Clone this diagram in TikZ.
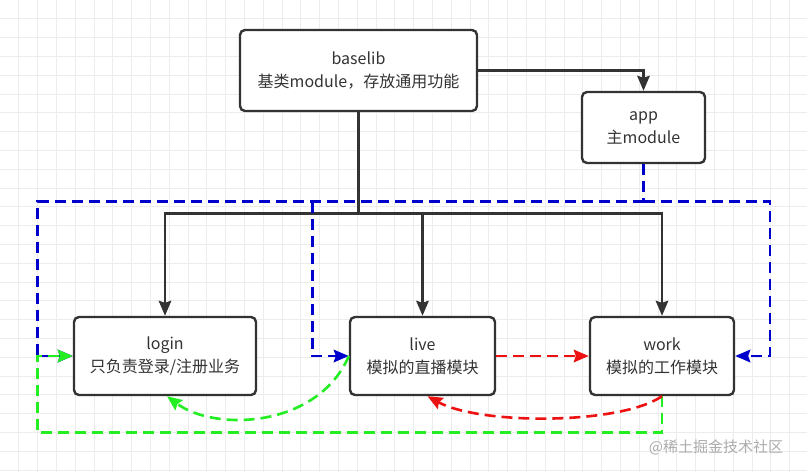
\documentclass[tikz,border=0pt]{standalone}
\usepackage{fontspec}
\setmainfont{Noto Sans CJK SC}
\usetikzlibrary{arrows.meta}
\definecolor{edgec}{HTML}{333333}
\definecolor{bluel}{HTML}{0000CC}
\definecolor{greenl}{HTML}{22EE22}
\definecolor{redl}{HTML}{EE1111}
\definecolor{gridc}{HTML}{ECECEC}
\begin{document}
\begin{tikzpicture}[x=1pt,y=-1pt,
  box/.style={draw=edgec, line width=2.4pt, rounded corners=5pt, fill=white, text=edgec, align=center, font=\fontsize{16}{23}\selectfont, inner sep=0pt},
  solidline/.style={draw=edgec, line width=2.4pt},
  conn/.style={solidline, -{Stealth[length=15pt,width=12.5pt,inset=2pt]}},
  dashedline/.style={line width=2.6pt, dash pattern=on 11pt off 6pt},
  bluedash/.style={dashedline, draw=bluel},
  greendash/.style={dashedline, draw=greenl},
  reddash/.style={dashedline, draw=redl},
  bluearr/.style={bluedash, -{Stealth[length=15pt,width=12.5pt,inset=2pt,fill=bluel]}},
  greenarr/.style={greendash, -{Stealth[length=15pt,width=12.5pt,inset=2pt,fill=greenl]}},
  redarr/.style={reddash, -{Stealth[length=15pt,width=12.5pt,inset=2pt,fill=redl]}},
]
\fill[white] (0,0) rectangle (807,472);
\useasboundingbox (0,0) rectangle (807,472);
\foreach \i in {1,...,42} {\draw[gridc, line width=0.8pt] (\i*18.8,0) -- (\i*18.8,472);}
\foreach \i in {1,...,25} {\draw[gridc, line width=0.8pt] (0,\i*18.8) -- (807,\i*18.8);}

\node[box, minimum width=237pt, minimum height=81pt] (base) at (358.5,70.5) {baselib\\基类module，存放通用功能};
\node[box, minimum width=123pt, minimum height=71pt] (app) at (643.5,127.5) {app\\主module};
\node[box, minimum width=182pt, minimum height=78pt] (login) at (165,356) {login\\只负责登录/注册业务};
\node[box, minimum width=145pt, minimum height=78pt] (live) at (422.5,356) {live\\模拟的直播模块};
\node[box, minimum width=144pt, minimum height=78pt] (work) at (662,356) {work\\模拟的工作模块};

% solid connectors
\coordinate (j) at (358.5,213.5);
\draw[conn] (base.east) -| (app.north);
\draw[solidline] (base.south) -- (j);
\draw[conn] (j) -| (login.north);
\draw[conn] (j) -| (live.north);
\draw[conn] (j) -| (work.north);

% blue dashed
\coordinate (b) at (643.5,201.5);
\coordinate (bl) at (37.5,201.5);
\coordinate (bm) at (312.5,201.5);
\coordinate (br) at (770,201.5);
\draw[bluedash] (app.south) -- (b);
\draw[bluearr] (b) -- (bl) |- (login.west);
\draw[bluearr] (bm) |- (live.west);
\draw[bluearr] (b) -- (br) |- (work.east);

% green dashed
\coordinate (gl) at (37.5,432.5);
\draw[greenarr] (work.south) |- (gl) |- (login.west);
\draw[greenarr] (live.west) .. controls (318,428) and (215,432) .. ([xshift=2pt]login.south);

% red dashed
\draw[redarr] (live.east) -- (work.west);
\draw[redarr] (work.south) .. controls (620,425) and (480,425) .. ([xshift=5pt]live.south);

\node[text=gray!65, font=\fontsize{15}{18}\selectfont] (wm) at (716,447) {@稀土掘金技术社区};
\end{tikzpicture}
\end{document}
